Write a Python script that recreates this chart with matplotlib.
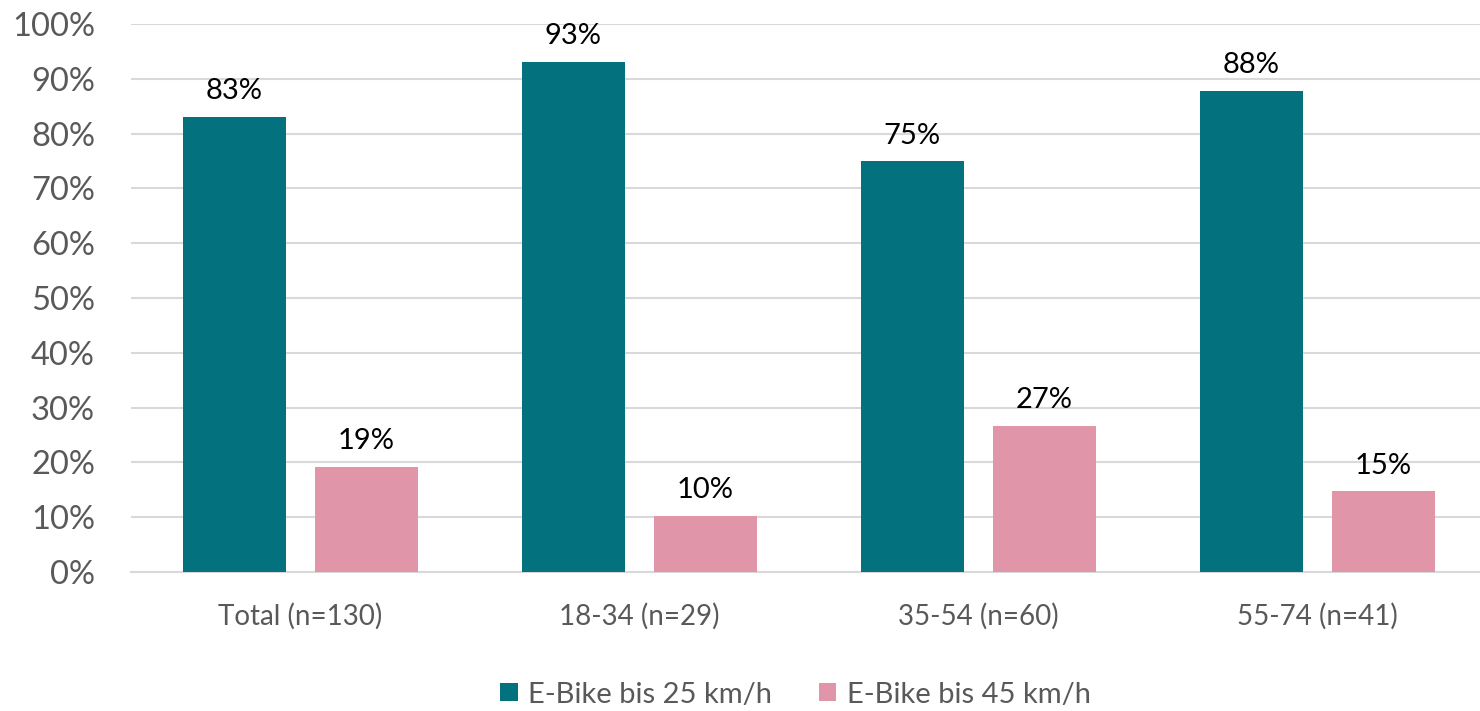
import matplotlib
matplotlib.use("Agg")
import matplotlib.pyplot as plt
import numpy as np

categories = ["Total (n=130)", "18-34 (n=29)", "35-54 (n=60)", "55-74 (n=41)"]
ebike_25 = [83.1, 93.1, 75.0, 87.8]
ebike_45 = [19.2, 10.3, 26.7, 14.7]
series_names = ["E-Bike bis 25 km/h", "E-Bike bis 45 km/h"]
COLOURS = ["#03717E", "#E195A9"]
GREY_TEXT = "#595959"

plt.rcParams["font.family"] = ["Lato", "DejaVu Sans"]

fig = plt.figure(figsize=(14.8, 7.11), dpi=100)
ax = fig.add_axes([131 / 1480, 139 / 711, 1356 / 1480, 548 / 711])

x = np.arange(len(categories))
width = 0.304
offset = 0.195
for vals, off, colour, name in zip(
    [ebike_25, ebike_45], [-offset, offset], COLOURS, series_names
):
    r = ax.bar(x + off, vals, width=width, color=colour, label=name, zorder=3)
    ax.bar_label(
        r,
        labels=[f"{v:.0f}%" for v in vals],
        padding=9,
        fontsize=21,
        color="black",
    )

ax.set_xlim(-0.5, len(categories) - 0.5)
ax.set_ylim(0, 100)
ax.set_yticks(np.arange(0, 101, 10))
ax.set_yticklabels([f"{v}%" for v in range(0, 101, 10)])
ax.set_xticks(x)
ax.set_xticklabels(categories)
ax.tick_params(axis="y", length=0, labelsize=23.5, colors=GREY_TEXT, pad=26)
ax.tick_params(axis="x", length=0, labelsize=20, colors=GREY_TEXT, pad=22)
ax.grid(axis="y", color="#D9D9D9", linewidth=1.5, zorder=0)
for side in ["top", "right", "left"]:
    ax.spines[side].set_visible(False)
ax.spines["bottom"].set_color("#D9D9D9")
ax.spines["bottom"].set_linewidth(1.5)

fig.legend(
    loc="lower center",
    bbox_to_anchor=(0.5375, -0.032),
    ncol=2,
    frameon=False,
    fontsize=21,
    labelcolor=GREY_TEXT,
    handlelength=0.6,
    handleheight=0.6,
    handletextpad=0.35,
    columnspacing=1.6,
)

fig.savefig("out.png", dpi=100)
